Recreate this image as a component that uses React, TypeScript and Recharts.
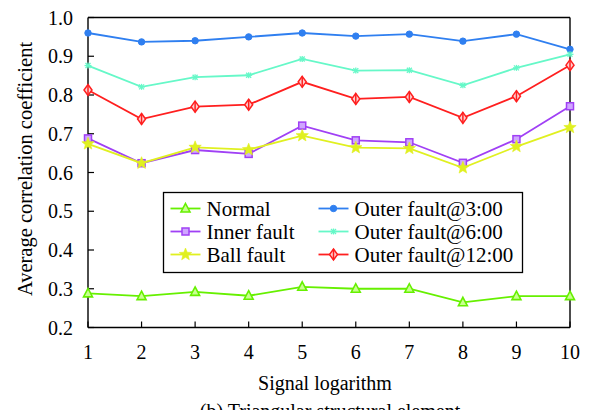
import React from 'react';
import { LineChart, Line, XAxis, YAxis } from 'recharts';

const signalLog = [1, 2, 3, 4, 5, 6, 7, 8, 9, 10];
const normal = [0.288, 0.281, 0.292, 0.282, 0.305, 0.3, 0.3, 0.265, 0.281, 0.281];
const innerFault = [0.688, 0.624, 0.658, 0.648, 0.721, 0.683, 0.678, 0.625, 0.686, 0.771];
const ballFault = [0.674, 0.624, 0.665, 0.659, 0.695, 0.664, 0.662, 0.612, 0.667, 0.716];
const outer3 = [0.96, 0.937, 0.94, 0.95, 0.96, 0.952, 0.957, 0.939, 0.957, 0.918];
const outer6 = [0.876, 0.821, 0.846, 0.851, 0.893, 0.863, 0.864, 0.825, 0.87, 0.905];
const outer12 = [0.813, 0.738, 0.77, 0.775, 0.834, 0.79, 0.795, 0.741, 0.797, 0.877];

const yTicks = [0.2, 0.3, 0.4, 0.5, 0.6, 0.7, 0.8, 0.9, 1.0];
const xTicks = signalLog;

const seriesNames = ['Normal', 'Inner fault', 'Ball fault', 'Outer fault@3:00', 'Outer fault@6:00', 'Outer fault@12:00'];
const seriesKeys = ['normal', 'inner', 'ball', 'o3', 'o6', 'o12'];
const seriesColors = ['#66f000', '#a040f5', '#e0f020', '#2f7ff0', '#66f8c8', '#ff1f1f'];
const seriesMarkers = ['triangle', 'square', 'star', 'circle', 'asterisk', 'diamond'];
const seriesValues = [normal, innerFault, ballFault, outer3, outer6, outer12];

const data = signalLog.map((x, i) => {
  const row: any = { x };
  seriesKeys.forEach((k, j) => {
    row[k] = seriesValues[j][i];
  });
  return row;
});

const FONT = 'Liberation Serif, Times New Roman, DejaVu Serif, serif';
const fontStyle = { fontFamily: FONT };

function starPath(cx: number, cy: number, ro: number, ri: number) {
  let d = '';
  for (let i = 0; i < 10; i++) {
    const r = i % 2 === 0 ? ro : ri;
    const a = -Math.PI / 2 + (i * Math.PI) / 5;
    d += (i === 0 ? 'M' : 'L') + (cx + r * Math.cos(a)).toFixed(2) + ',' + (cy + r * Math.sin(a)).toFixed(2);
  }
  return d + 'Z';
}

function Marker({ type, cx, cy, color }: { type: string; cx: number; cy: number; color: string }) {
  if (cx == null || cy == null) return null;
  switch (type) {
    case 'triangle':
      return (
        <path d={`M${cx},${cy - 5} L${cx + 4.5},${cy + 3.5} L${cx - 4.5},${cy + 3.5} Z`} fill="#c8ff90" stroke={color} strokeWidth={1.6} />
      );
    case 'square':
      return <rect x={cx - 3.5} y={cy - 3.5} width={7} height={7} fill="#cfa6ff" stroke={color} strokeWidth={1.5} />;
    case 'star':
      return <path d={starPath(cx, cy, 6.5, 2.8)} fill={color} stroke={color} strokeWidth={0.6} />;
    case 'circle':
      return <circle cx={cx} cy={cy} r={3.2} fill={color} stroke={color} />;
    case 'asterisk':
      return (
        <g stroke={color} strokeWidth={1.3}>
          <line x1={cx - 3.5} y1={cy} x2={cx + 3.5} y2={cy} />
          <line x1={cx - 2.5} y1={cy - 2.5} x2={cx + 2.5} y2={cy + 2.5} />
          <line x1={cx - 2.5} y1={cy + 2.5} x2={cx + 2.5} y2={cy - 2.5} />
          <line x1={cx} y1={cy - 3} x2={cx} y2={cy + 3} />
        </g>
      );
    case 'diamond':
      return (
        <g stroke={color} strokeWidth={1.5} fill="none">
          <path d={`M${cx},${cy - 5.5} L${cx + 4},${cy} L${cx},${cy + 5.5} L${cx - 4},${cy} Z`} fill="#ffd0d0" />
          <line x1={cx} y1={cy - 5.5} x2={cx} y2={cy + 5.5} />
        </g>
      );
    default:
      return null;
  }
}

const legendLeft = 163.5;
const legendTop = 192.5;
const legendW = 359;
const legendH = 80;
const legendRows = [16, 39, 62];
const legendCols = [7, 155];

export default function App() {
  return (
    <div style={{ position: 'absolute', left: 0, top: 0, width: 590, height: 410, background: '#fff', fontFamily: FONT }}>
      <LineChart width={590} height={410} data={data} margin={{ top: 16.5, right: 19, bottom: 52.5, left: 0 }} style={fontStyle}>
        <XAxis
          xAxisId="bottom"
          dataKey="x"
          type="number"
          domain={[1, 10]}
          ticks={xTicks}
          orientation="bottom"
          height={30}
          tickSize={-6}
          tickMargin={23}
          axisLine={{ stroke: '#000', strokeWidth: 1.4 }}
          tickLine={{ stroke: '#000', strokeWidth: 1.2 }}
          tick={{ fill: '#000', fontSize: 20, fontFamily: FONT, style: fontStyle }}
          interval={0}
        />
        <XAxis
          xAxisId="top"
          dataKey="x"
          type="number"
          domain={[1, 10]}
          ticks={xTicks}
          orientation="top"
          height={1}
          tickSize={-6}
          tick={false}
          axisLine={{ stroke: '#000', strokeWidth: 1.4 }}
          tickLine={{ stroke: '#000', strokeWidth: 1.2 }}
          interval={0}
        />
        <YAxis
          yAxisId="left"
          type="number"
          domain={[0.2, 1.0]}
          ticks={yTicks}
          orientation="left"
          width={88}
          tickSize={-6}
          tickMargin={21}
          tickFormatter={(v: number) => v.toFixed(1)}
          axisLine={{ stroke: '#000', strokeWidth: 1.4 }}
          tickLine={{ stroke: '#000', strokeWidth: 1.2 }}
          tick={{ fill: '#000', fontSize: 20, fontFamily: FONT, style: fontStyle }}
          interval={0}
        />
        <YAxis
          yAxisId="right"
          type="number"
          domain={[0.2, 1.0]}
          ticks={yTicks}
          orientation="right"
          width={1}
          tickSize={-6}
          tick={false}
          axisLine={{ stroke: '#000', strokeWidth: 1.4 }}
          tickLine={{ stroke: '#000', strokeWidth: 1.2 }}
          interval={0}
        />
        {seriesKeys.map((k, j) => (
          <Line
            key={k}
            xAxisId="bottom"
            yAxisId="left"
            dataKey={k}
            name={seriesNames[j]}
            stroke={seriesColors[j]}
            strokeWidth={1.8}
            isAnimationActive={false}
            dot={(p: any) => (
              <Marker key={`${k}-${p.index}`} type={seriesMarkers[j]} cx={p.cx} cy={p.cy} color={seriesColors[j]} />
            )}
            activeDot={false}
          />
        ))}
        <g>
          <rect x={legendLeft} y={legendTop} width={legendW} height={legendH} fill="#fff" stroke="#000" strokeWidth={1.3} />
          {seriesNames.map((name, j) => {
            const col = Math.floor(j / 3);
            const row = j % 3;
            const lx = legendLeft + legendCols[col];
            const ly = legendTop + legendRows[row];
            return (
              <g key={name}>
                <line x1={lx} y1={ly} x2={lx + 30} y2={ly} stroke={seriesColors[j]} strokeWidth={1.8} />
                <Marker type={seriesMarkers[j]} cx={lx + 15} cy={ly} color={seriesColors[j]} />
                <text x={lx + 36} y={ly + 7} fontSize={21} style={fontStyle} fill="#000">
                  {name}
                </text>
              </g>
            );
          })}
        </g>
        <text x={325} y={390} textAnchor="middle" fontSize={20} style={fontStyle} fill="#000">
          Signal logarithm
        </text>
        <text transform="translate(32,169) rotate(-90)" textAnchor="middle" fontSize={20.5} style={fontStyle} fill="#000">
          Average correlation coefficient
        </text>
        <text x={330} y={418} textAnchor="middle" fontSize={20} style={fontStyle} fill="#000">
          (b) Triangular structural element
        </text>
      </LineChart>
    </div>
  );
}
